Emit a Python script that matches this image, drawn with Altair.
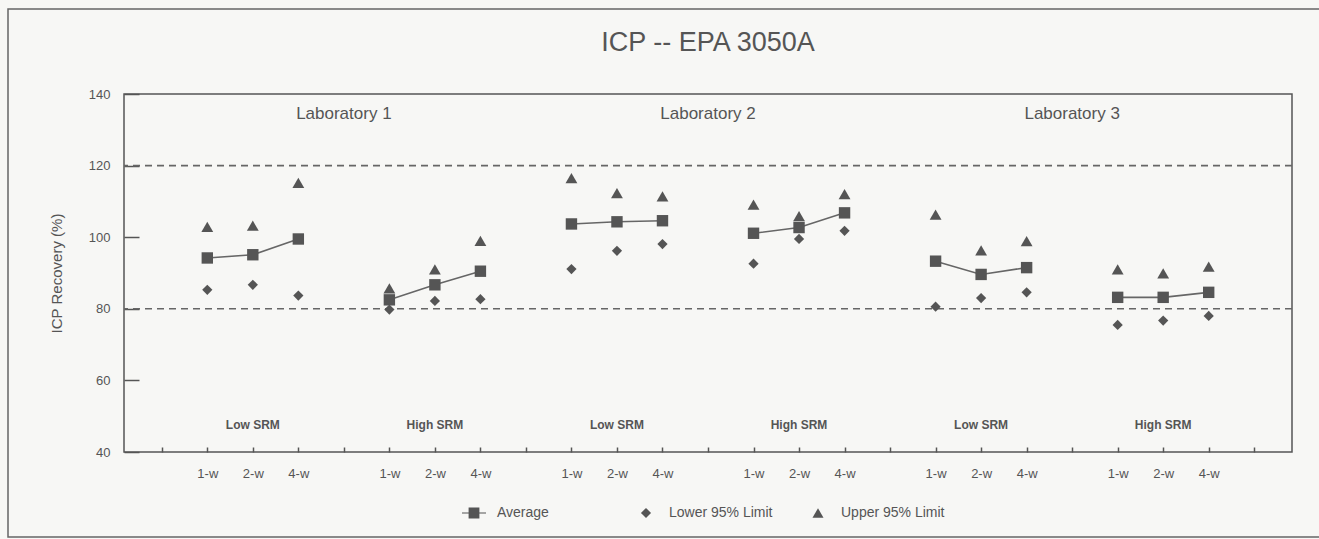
import json
import altair as alt
import pandas as pd

FONT = "Liberation Sans"
INK = "#555555"

# ---------------- data ----------------
labs = ["Laboratory 1", "Laboratory 2", "Laboratory 3"]
srm_levels = ["Low SRM", "High SRM"]
weeks = ["1-w", "2-w", "4-w"]
series_names = ["Average", "Lower 95% Limit", "Upper 95% Limit"]
limits = [80, 120]
y_ticks = [40, 60, 80, 100, 120, 140]

# order: Lab1 Low, Lab1 High, Lab2 Low, Lab2 High, Lab3 Low, Lab3 High ; each 1-w, 2-w, 4-w
average = [94.2, 95.1, 99.5, 82.5, 86.7, 90.5,
           103.7, 104.3, 104.6, 101.1, 102.7, 106.8,
           93.3, 89.6, 91.5, 83.2, 83.2, 84.6]
lower = [85.3, 86.7, 83.7, 79.8, 82.2, 82.7,
         91.1, 96.2, 98.1, 92.6, 99.5, 101.8,
         80.6, 83.0, 84.6, 75.5, 76.7, 78.0]
upper = [102.9, 103.2, 115.2, 85.7, 91.0, 99.0,
         116.5, 112.3, 111.4, 109.1, 105.9, 112.0,
         106.3, 96.3, 98.9, 91.0, 89.9, 91.8]

# ---------------- tables ----------------
rows = []
for g in range(len(labs) * len(srm_levels)):
    for w in range(len(weeks)):
        i = g * len(weeks) + w
        k = 4 * g + 1 + w
        for name, vals in zip(series_names, [average, lower, upper]):
            rows.append({"k": k, "value": vals[i], "series": name, "grp": g})
df = pd.DataFrame(rows)

lab_df = pd.DataFrame({"k": [4 + 8 * i for i in range(len(labs))],
                       "value": [133.0] * len(labs), "text": labs})
srm_text = [s for _ in labs for s in srm_levels]
srm_df = pd.DataFrame({"k": [2 + 4 * i for i in range(len(srm_text))],
                       "value": [46.5] * len(srm_text), "text": srm_text})
lim_df = pd.DataFrame({"value": limits})
one = pd.DataFrame({"a": [0]})

# ---------------- scales / axes ----------------
xscale = alt.Scale(domain=[-0.83, 24.83], nice=False, zero=False)
yscale = alt.Scale(domain=[40, 140], nice=False, zero=False)

label_expr = json.dumps([""] + weeks) + "[datum.value % 4]"
xaxis = alt.Axis(values=list(range(25)), labelExpr=label_expr, offset=-5, tickSize=5,
                 tickWidth=1.5, tickColor=INK, domain=False, grid=False, labelPadding=15,
                 labelFont=FONT, labelFontSize=13, labelColor=INK, labelFlush=False,
                 labelOverlap=False, title=None)
yaxis = alt.Axis(values=y_ticks, offset=-15, tickSize=15, tickWidth=1.5, tickColor=INK,
                 domain=False, grid=False, labelPadding=14, labelFont=FONT, labelFontSize=13,
                 labelColor=INK, title="ICP Recovery (%)", titleFont=FONT, titleFontSize=15,
                 titleFontWeight="normal", titleColor=INK, titlePadding=24)

X = alt.X("k:Q", scale=xscale, axis=xaxis)
Y = alt.Y("value:Q", scale=yscale, axis=yaxis)

# ---------------- layers ----------------
frame = alt.Chart(one).mark_rect(fill="transparent", stroke="#666666", strokeWidth=1.5).encode(
    x=alt.value(-116), x2=alt.value(1215), y=alt.value(-85), y2=alt.value(443))

lim_rules = alt.Chart(lim_df).mark_rule(color="#666666", strokeWidth=1.6, strokeDash=[7, 5]).encode(y=Y)

avg_line = alt.Chart(df).transform_filter(
    alt.datum.series == series_names[0]
).mark_line(color="#666666", strokeWidth=1.6).encode(x=X, y=Y, detail="grp:N")

shapes = ["square", "diamond", "triangle-up"]
sizes = [130, 105, 140]
point_layers = []
for name, shp, sz in zip(series_names, shapes, sizes):
    point_layers.append(
        alt.Chart(df).transform_filter(alt.datum.series == name)
        .mark_point(shape=shp, size=sz, filled=True, opacity=1, color=INK, strokeWidth=0)
        .encode(x=X, y=Y)
    )

legend_paths = [
    "M-1,-0.035H1V0.035H-1Z M-0.45,-0.45H0.45V0.45H-0.45Z",
    "M0,-0.42L0.42,0L0,0.42L-0.42,0Z",
    "M0,-0.4L0.46,0.4L-0.46,0.4Z",
]
legend_layer = alt.Chart(df).transform_filter("false").mark_point(
    filled=True, opacity=1, color=INK, strokeWidth=0
).encode(
    x=X, y=Y,
    shape=alt.Shape("series:N", scale=alt.Scale(domain=series_names, range=legend_paths),
                    legend=alt.Legend(title=None, orient="none", legendX=338, legendY=407,
                                      direction="horizontal", columns=3, gridAlign="all",
                                      columnPadding=33, symbolSize=576, labelOffset=11,
                                      labelFont=FONT, labelFontSize=14, labelColor=INK,
                                      symbolFillColor=INK, symbolStrokeWidth=0,
                                      symbolOpacity=1, padding=0)),
)

lab_text = alt.Chart(lab_df).mark_text(font=FONT, fontSize=17, color=INK,
                                       baseline="alphabetic", align="center").encode(
    x=X, y=Y, text="text:N")
srm_labels = alt.Chart(srm_df).mark_text(font=FONT, fontSize=12, fontWeight="bold", color=INK,
                                         baseline="alphabetic", align="center").encode(
    x=X, y=Y, text="text:N")

chart = alt.layer(frame, lim_rules, avg_line, *point_layers, legend_layer, lab_text, srm_labels).properties(
    width=1168, height=358,
    title=alt.TitleParams("ICP -- EPA 3050A", font=FONT, fontSize=27, fontWeight="normal",
                          color=INK, anchor="middle", baseline="alphabetic", offset=-70),
    autosize=alt.AutoSizeParams(type="none"),
    padding={"left": 124, "top": 94, "right": 27, "bottom": 87},
    background="#f7f7f5",
).configure_view(stroke=INK, strokeWidth=1.5)

chart.save("out.html", embed_options={"renderer": "svg", "actions": False})
